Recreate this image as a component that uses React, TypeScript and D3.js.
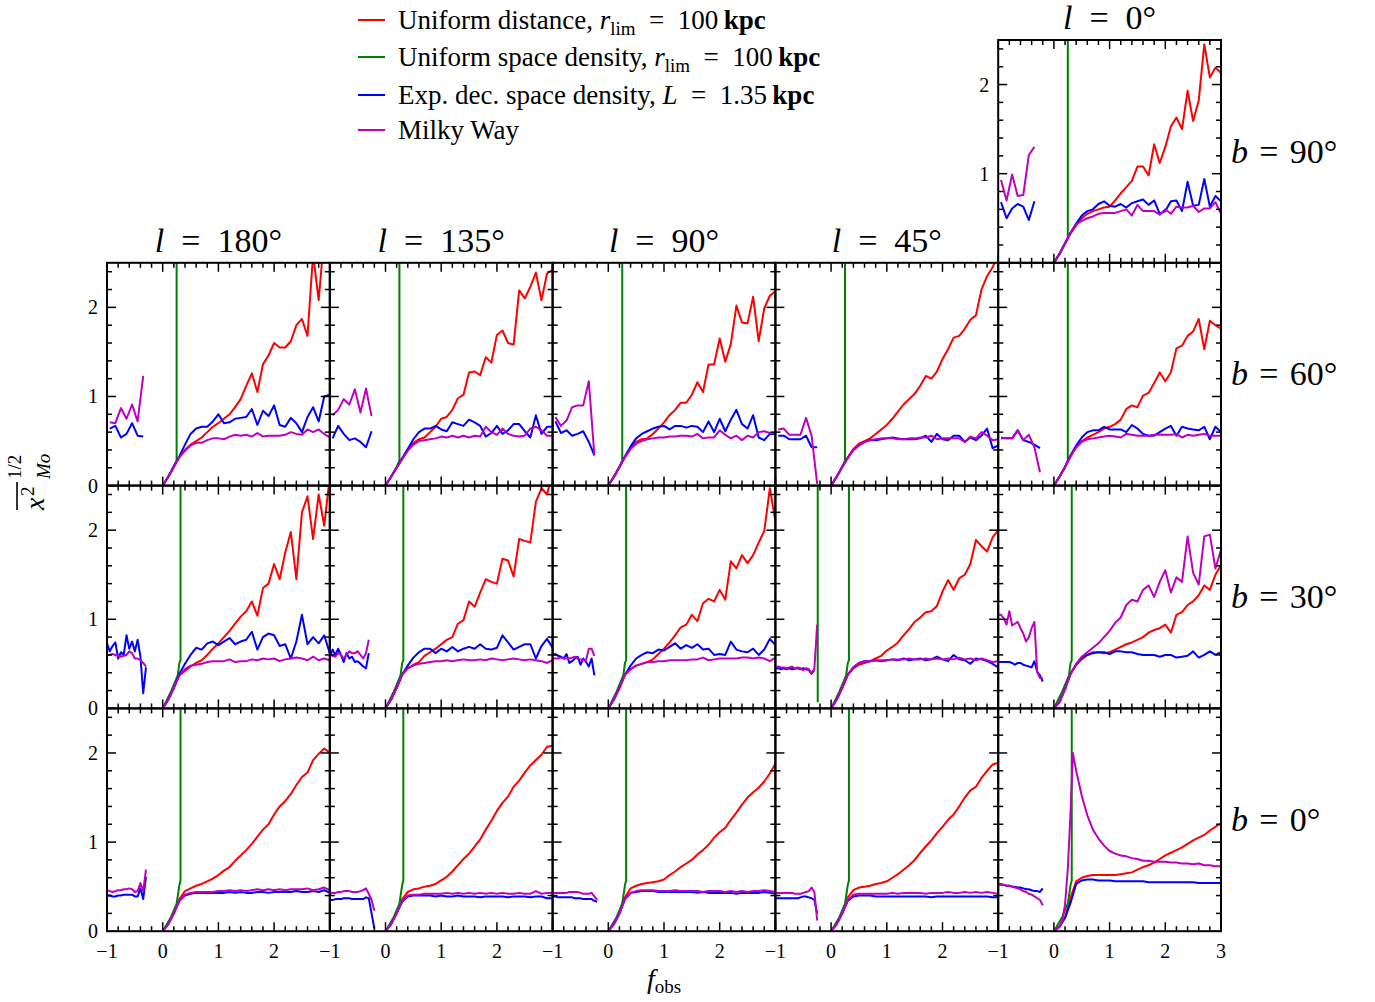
import React from "react";
import * as d3 from "d3";

const FONT = "'Liberation Serif', 'DejaVu Serif', serif";

// sample grids (in f_obs)
const POS_X = [0, 0.1, 0.2, 0.3, 0.4, 0.5, 0.6, 0.7, 0.8, 0.9, 1.0, 1.1, 1.2, 1.3, 1.4, 1.5, 1.6, 1.7, 1.8, 1.9, 2.0,
  2.1, 2.2, 2.3, 2.4, 2.5, 2.6, 2.7, 2.8, 2.9, 3.0];
const NEG_X_COARSE = [-0.95, -0.85, -0.75, -0.65, -0.55, -0.45, -0.35, -0.25];
const NEG_X_FINE = [-1, -0.95, -0.9, -0.85, -0.8, -0.75, -0.7, -0.65, -0.6, -0.55, -0.5, -0.45, -0.4, -0.35, -0.3, -0.25, -0.2];
const MW_PEAK_X = [0, 0.1, 0.15, 0.2, 0.25, 0.3, 0.34, 0.4, 0.5, 0.6, 0.7, 0.8, 0.9, 1.0, 1.1, 1.2, 1.3, 1.4, 1.5, 1.6,
  1.7, 1.8, 1.9, 2.0, 2.1, 2.2, 2.3, 2.4, 2.5, 2.6, 2.7, 2.8, 2.9, 3.0];

const L_LABELS = ["180", "135", "90", "45", "0"];
const B_LABELS = ["90", "60", "30", "0"];
const X_TICKS = [-1, 0, 1, 2, 3];
const Y_TICKS = [0, 1, 2];

// green: uniform space density
const GREEN_X_B60 = [0, 0.1, 0.2, 0.25, 0.25];
const GREEN_Y_B60 = [0, 0.1, 0.21, 0.28, 2.6];
const GREEN_X_B30 = [0, 0.15, 0.27, 0.3, 0.32, 0.32];
const GREEN_Y_B30 = [0, 0.19, 0.37, 0.51, 0.54, 2.6];
const GREEN_X_B0 = [0, 0.15, 0.25, 0.3, 0.32, 0.32];
const GREEN_Y_B0 = [0, 0.16, 0.31, 0.52, 0.57, 2.6];
const GREEN_EXTRA_X_B30_L45 = [-0.24, -0.24];
const GREEN_EXTRA_Y_B30_L45 = [0.07, 2.6];

// b = 90
const RED_B90_L0 = [0, 0.1, 0.22, 0.33, 0.42, 0.5, 0.55, 0.58, 0.6, 0.62, 0.63, 0.7, 0.78, 0.85, 0.92, 1.08, 1.08, 0.98, 1.33, 1.12, 1.3, 1.53, 1.63, 1.5, 1.93, 1.59, 1.82, 2.45, 2.08, 2.19, 2.13];
const BLUE_B90_L0 = [0, 0.1, 0.22, 0.34, 0.44, 0.53, 0.58, 0.6, 0.66, 0.69, 0.64, 0.63, 0.66, 0.62, 0.67, 0.69, 0.71, 0.65, 0.7, 0.55, 0.58, 0.69, 0.7, 0.58, 0.91, 0.64, 0.65, 0.94, 0.63, 0.75, 0.69];
const MW_B90_L0 = [0, 0.1, 0.22, 0.34, 0.43, 0.47, 0.5, 0.52, 0.55, 0.56, 0.56, 0.56, 0.58, 0.6, 0.53, 0.65, 0.58, 0.58, 0.58, 0.54, 0.6, 0.55, 0.63, 0.62, 0.62, 0.64, 0.57, 0.61, 0.61, 0.68, 0.55];
const MW_NEG_B90_L0 = [0.93, 0.7, 0.99, 0.75, 0.76, 1.21, 1.3, null];
const BLUE_NEG_B90_L0 = [0.68, 0.5, 0.61, 0.66, 0.63, 0.48, 0.69, null];

// b = 60
const RED_B60_L180 = [0, 0.1, 0.21, 0.32, 0.4, 0.46, 0.5, 0.54, 0.6, 0.66, 0.7, 0.75, 0.8, 0.88, 0.97, 1.12, 1.26, 1.05, 1.36, 1.46, 1.6, 1.55, 1.55, 1.62, 1.8, 1.87, 1.68, 2.6, 2.08, 2.8, 2.9];
const BLUE_B60_L180 = [0, 0.1, 0.22, 0.33, 0.46, 0.58, 0.64, 0.66, 0.66, 0.72, 0.8, 0.7, 0.71, 0.75, 0.76, 0.77, 0.86, 0.68, 0.84, 0.78, 0.9, 0.68, 0.66, 0.76, 0.7, 0.6, 0.77, 0.88, 0.72, 1.0, 1.02];
const MW_B60_L180 = [0, 0.1, 0.21, 0.32, 0.39, 0.45, 0.48, 0.48, 0.51, 0.53, 0.53, 0.52, 0.55, 0.57, 0.56, 0.57, 0.55, 0.59, 0.55, 0.56, 0.56, 0.56, 0.57, 0.6, 0.58, 0.57, 0.63, 0.6, 0.63, 0.58, 0.54];
const MW_NEG_B60_L180 = [0.71, 0.7, 0.87, 0.75, 0.91, 0.72, 1.23, null];
const BLUE_NEG_B60_L180 = [0.64, 0.67, 0.54, 0.58, 0.7, 0.56, 0.55, null];

const RED_B60_L135 = [0, 0.1, 0.2, 0.3, 0.41, 0.48, 0.52, 0.54, 0.6, 0.66, 0.75, 0.77, 0.85, 0.98, 1.02, 1.27, 1.28, 1.24, 1.44, 1.38, 1.69, 1.74, 1.6, 1.58, 2.19, 2.1, 2.23, 2.39, 2.08, 2.38, 2.42];
const BLUE_B60_L135 = [0, 0.1, 0.2, 0.31, 0.41, 0.52, 0.6, 0.64, 0.64, 0.67, 0.63, 0.61, 0.71, 0.69, 0.67, 0.74, 0.71, 0.67, 0.55, 0.59, 0.67, 0.58, 0.62, 0.69, 0.69, 0.61, 0.54, 0.79, 0.58, 0.66, 0.66];
const MW_B60_L135 = [0, 0.1, 0.2, 0.3, 0.39, 0.46, 0.5, 0.51, 0.52, 0.53, 0.55, 0.54, 0.56, 0.54, 0.56, 0.54, 0.56, 0.55, 0.66, 0.6, 0.57, 0.64, 0.58, 0.56, 0.55, 0.56, 0.64, 0.66, 0.62, 0.56, 0.56];
const MW_NEG_B60_L135 = [0.79, 0.85, 0.97, 0.91, 1.08, 0.82, 1.09, 0.78];
const BLUE_NEG_B60_L135 = [0.53, 0.67, 0.58, 0.51, 0.53, 0.49, 0.43, 0.61];

const RED_B60_L90 = [0, 0.1, 0.21, 0.32, 0.42, 0.49, 0.52, 0.53, 0.58, 0.64, 0.71, 0.79, 0.85, 0.93, 0.93, 1.02, 1.16, 1.05, 1.36, 1.36, 1.65, 1.39, 1.59, 2.02, 1.83, 1.82, 2.12, 1.62, 1.99, 2.13, 2.18];
const BLUE_B60_L90 = [0, 0.1, 0.21, 0.33, 0.44, 0.53, 0.58, 0.61, 0.64, 0.66, 0.67, 0.63, 0.67, 0.67, 0.65, 0.67, 0.66, 0.6, 0.72, 0.6, 0.75, 0.61, 0.74, 0.85, 0.69, 0.64, 0.79, 0.54, 0.51, 0.58, 0.58];
const MW_B60_L90 = [0, 0.1, 0.21, 0.32, 0.41, 0.47, 0.5, 0.52, 0.53, 0.54, 0.54, 0.55, 0.55, 0.56, 0.56, 0.55, 0.58, 0.53, 0.54, 0.54, 0.62, 0.57, 0.53, 0.56, 0.51, 0.56, 0.54, 0.6, 0.61, 0.59, 0.59];
const MW_NEG_B60_L90 = [0.77, 0.67, 0.73, 0.88, 0.9, 0.9, 1.17, 0.34];
const BLUE_NEG_B60_L90 = [0.72, 0.59, 0.62, 0.56, 0.58, 0.61, 0.49, 0.34];

const RED_B60_L45 = [0, 0.1, 0.21, 0.32, 0.41, 0.47, 0.5, 0.53, 0.58, 0.63, 0.68, 0.75, 0.83, 0.91, 0.97, 1.03, 1.12, 1.23, 1.2, 1.28, 1.42, 1.53, 1.66, 1.68, 1.76, 1.86, 1.91, 2.2, 2.35, 2.45, 2.6];
const BLUE_B60_L45 = [0, 0.1, 0.21, 0.31, 0.4, 0.45, 0.49, 0.51, 0.51, 0.52, 0.53, 0.54, 0.53, 0.52, 0.52, 0.52, 0.53, 0.56, 0.49, 0.58, 0.52, 0.51, 0.56, 0.56, 0.49, 0.54, 0.51, 0.56, 0.64, 0.42, 0.45];
const MW_B60_L45 = [0, 0.1, 0.21, 0.31, 0.4, 0.45, 0.49, 0.51, 0.52, 0.53, 0.53, 0.53, 0.52, 0.52, 0.53, 0.53, 0.54, 0.54, 0.56, 0.52, 0.53, 0.53, 0.53, 0.53, 0.49, 0.55, 0.53, 0.6, 0.56, 0.51, 0.52];
const MW_NEG_B60_L45 = [0.63, 0.64, 0.57, 0.57, 0.57, 0.76, 0.56, 0.02];
const BLUE_NEG_B60_L45 = [0.56, 0.56, 0.52, 0.52, 0.52, 0.56, 0.43, 0.43];

const RED_B60_L0 = [0, 0.1, 0.21, 0.33, 0.43, 0.5, 0.54, 0.57, 0.6, 0.64, 0.66, 0.69, 0.74, 0.86, 0.9, 0.88, 1.01, 1.04, 1.15, 1.27, 1.17, 1.27, 1.54, 1.57, 1.68, 1.73, 1.87, 1.53, 1.85, 1.8, 1.76];
const BLUE_B60_L0 = [0, 0.1, 0.21, 0.34, 0.45, 0.54, 0.6, 0.62, 0.62, 0.66, 0.63, 0.63, 0.63, 0.6, 0.68, 0.64, 0.58, 0.56, 0.56, 0.6, 0.64, 0.67, 0.56, 0.66, 0.64, 0.63, 0.62, 0.66, 0.52, 0.66, 0.6];
const MW_B60_L0 = [0, 0.1, 0.21, 0.33, 0.43, 0.49, 0.52, 0.53, 0.54, 0.55, 0.56, 0.55, 0.54, 0.58, 0.57, 0.56, 0.56, 0.56, 0.57, 0.57, 0.57, 0.57, 0.58, 0.54, 0.57, 0.56, 0.57, 0.58, 0.56, 0.56, 0.56];
const MW_NEG_B60_L0 = [0.54, 0.53, 0.53, 0.62, 0.51, 0.57, 0.43, 0.15];
const BLUE_NEG_B60_L0 = [0.53, 0.53, 0.53, 0.62, 0.51, 0.49, 0.46, 0.42];

// b = 30
const RED_B30_L180 = [0, 0.1, 0.23, 0.37, 0.42, 0.47, 0.51, 0.54, 0.6, 0.67, 0.73, 0.8, 0.87, 0.95, 1.03, 1.09, 1.2, 1.04, 1.35, 1.4, 1.62, 1.45, 1.75, 1.98, 1.45, 2.2, 2.38, 1.9, 2.4, 2.05, 2.6];
const BLUE_B30_L180 = [0, 0.1, 0.23, 0.39, 0.5, 0.6, 0.68, 0.66, 0.73, 0.75, 0.71, 0.75, 0.79, 0.72, 0.75, 0.77, 0.86, 0.66, 0.8, 0.84, 0.82, 0.7, 0.72, 0.56, 0.75, 1.05, 0.72, 0.8, 0.73, 0.82, 0.62];
const MW_B30_L180 = [0, 0.1, 0.23, 0.37, 0.44, 0.48, 0.49, 0.5, 0.52, 0.53, 0.53, 0.53, 0.55, 0.52, 0.53, 0.53, 0.55, 0.54, 0.56, 0.55, 0.56, 0.53, 0.55, 0.56, 0.57, 0.56, 0.54, 0.58, 0.54, 0.56, 0.54];
const MW_NEG_B30_L180 = [0.6, 0.6, 0.61, 0.6, 0.59, 0.58, 0.59, 0.6, 0.64, 0.62, 0.56, 0.56, 0.54, 0.51, 0.47, null, null];
const BLUE_NEG_B30_L180 = [0.73, 0.64, 0.7, 0.74, 0.56, 0.63, 0.6, 0.82, 0.67, 0.75, 0.64, 0.77, 0.58, 0.17, 0.46, null, null];

const RED_B30_L135 = [0, 0.1, 0.23, 0.38, 0.45, 0.49, 0.52, 0.59, 0.63, 0.67, 0.72, 0.77, 0.8, 0.95, 0.99, 1.2, 1.14, 1.3, 1.45, 1.42, 1.4, 1.68, 1.66, 1.48, 1.9, 1.88, 1.86, 2.32, 2.47, 2.4, 2.65];
const BLUE_B30_L135 = [0, 0.1, 0.23, 0.38, 0.48, 0.57, 0.63, 0.67, 0.67, 0.62, 0.67, 0.64, 0.69, 0.64, 0.67, 0.69, 0.67, 0.72, 0.67, 0.66, 0.68, 0.82, 0.74, 0.66, 0.69, 0.72, 0.72, 0.56, 0.7, 0.78, 0.68];
const MW_B30_L135 = [0, 0.1, 0.23, 0.38, 0.45, 0.48, 0.5, 0.51, 0.52, 0.53, 0.53, 0.54, 0.53, 0.54, 0.55, 0.54, 0.54, 0.55, 0.54, 0.56, 0.55, 0.54, 0.55, 0.56, 0.55, 0.54, 0.55, 0.54, 0.53, 0.51, 0.54];
const MW_NEG_B30_L135 = [0.6, 0.59, 0.58, 0.62, 0.6, 0.56, 0.6, 0.64, 0.62, 0.62, 0.64, 0.6, 0.56, 0.62, 0.77, null, null];
const BLUE_NEG_B30_L135 = [0.58, 0.66, 0.6, 0.67, 0.6, 0.52, 0.62, 0.56, 0.58, 0.52, 0.53, 0.5, 0.47, 0.45, 0.62, null, null];

const RED_B30_L90 = [0, 0.1, 0.23, 0.38, 0.44, 0.48, 0.5, 0.52, 0.55, 0.61, 0.67, 0.74, 0.82, 0.91, 0.94, 1.05, 0.98, 1.18, 1.23, 1.2, 1.33, 1.22, 1.65, 1.57, 1.72, 1.63, 1.72, 1.86, 1.99, 2.47, 2.1];
const BLUE_B30_L90 = [0, 0.1, 0.23, 0.38, 0.48, 0.56, 0.6, 0.63, 0.62, 0.66, 0.65, 0.69, 0.73, 0.67, 0.71, 0.68, 0.72, 0.66, 0.67, 0.6, 0.61, 0.6, 0.75, 0.66, 0.64, 0.63, 0.67, 0.6, 0.66, 0.78, 0.71];
const MW_B30_L90 = [0, 0.1, 0.23, 0.38, 0.44, 0.48, 0.5, 0.52, 0.52, 0.53, 0.53, 0.54, 0.54, 0.54, 0.54, 0.55, 0.55, 0.57, 0.54, 0.55, 0.56, 0.56, 0.56, 0.56, 0.57, 0.57, 0.56, 0.57, 0.56, 0.53, 0.57];
const MW_NEG_B30_L90 = [0.56, 0.56, 0.56, 0.57, 0.56, 0.56, 0.56, 0.57, 0.58, 0.56, 0.55, 0.54, 0.54, 0.67, 0.67, 0.59, null];
const BLUE_NEG_B30_L90 = [0.6, 0.61, 0.59, 0.58, 0.56, 0.61, 0.51, 0.53, 0.56, 0.58, 0.49, 0.56, 0.52, 0.47, 0.56, 0.37, null];

const RED_B30_L45 = [0, 0.1, 0.23, 0.38, 0.45, 0.49, 0.51, 0.53, 0.56, 0.59, 0.65, 0.69, 0.74, 0.82, 0.89, 0.97, 1.02, 1.08, 1.09, 1.15, 1.31, 1.44, 1.33, 1.46, 1.5, 1.62, 1.89, 1.82, 1.76, 1.92, 2.0];
const BLUE_B30_L45 = [0, 0.1, 0.23, 0.38, 0.46, 0.51, 0.53, 0.53, 0.54, 0.53, 0.54, 0.55, 0.54, 0.56, 0.54, 0.55, 0.56, 0.54, 0.55, 0.58, 0.55, 0.53, 0.6, 0.55, 0.54, 0.5, 0.56, 0.55, 0.53, 0.5, 0.46];
const MW_B30_L45 = [0, 0.1, 0.23, 0.38, 0.46, 0.51, 0.53, 0.53, 0.54, 0.54, 0.54, 0.55, 0.55, 0.55, 0.56, 0.55, 0.55, 0.56, 0.55, 0.56, 0.55, 0.56, 0.55, 0.57, 0.55, 0.56, 0.54, 0.56, 0.54, 0.52, 0.53];
const MW_NEG_B30_L45 = [0.46, 0.47, 0.46, 0.46, 0.45, 0.46, 0.47, 0.44, 0.46, 0.45, 0.43, 0.45, 0.44, 0.39, 0.45, 0.94, null];
const BLUE_NEG_B30_L45 = [0.45, 0.45, 0.44, 0.45, 0.44, 0.45, 0.44, 0.45, 0.45, 0.44, 0.45, 0.44, 0.43, 0.39, 0.43, null, null];

const RED_B30_L0 = [0, 0.07, 0.22, 0.39, 0.49, 0.55, 0.6, 0.63, 0.63, 0.62, 0.63, 0.66, 0.69, 0.72, 0.74, 0.77, 0.8, 0.85, 0.88, 0.9, 0.94, 0.85, 1.05, 1.08, 1.16, 1.2, 1.27, 1.38, 1.33, 1.5, 1.61];
const BLUE_B30_L0 = [0, 0.07, 0.22, 0.39, 0.49, 0.57, 0.6, 0.62, 0.63, 0.63, 0.61, 0.64, 0.64, 0.63, 0.63, 0.61, 0.6, 0.6, 0.6, 0.58, 0.6, 0.6, 0.57, 0.58, 0.59, 0.64, 0.57, 0.6, 0.64, 0.6, 0.63];
const MW_B30_L0 = [0, 0.07, 0.22, 0.39, 0.5, 0.58, 0.63, 0.68, 0.73, 0.8, 0.87, 0.96, 1.02, 1.16, 1.22, 1.2, 1.33, 1.38, 1.25, 1.42, 1.55, 1.3, 1.47, 1.42, 1.93, 1.52, 1.39, 1.93, 1.95, 1.57, 1.78];
const MW_NEG_B30_L0 = [1.05, 1.05, 1.01, 0.94, 1.09, 0.93, 0.95, 0.97, 0.9, 0.84, 0.75, 0.8, 0.9, 0.97, 0.41, 0.34, 0.34];
const BLUE_NEG_B30_L0 = [0.52, 0.52, 0.52, 0.52, 0.52, 0.51, 0.49, 0.51, 0.51, 0.49, 0.48, 0.47, 0.46, 0.53, 0.41, 0.37, 0.3];

// b = 0
const RED_B0_L180 = [0, 0.08, 0.2, 0.36, 0.45, 0.48, 0.51, 0.53, 0.56, 0.59, 0.63, 0.68, 0.72, 0.79, 0.85, 0.91, 0.98, 1.06, 1.14, 1.2, 1.31, 1.4, 1.46, 1.54, 1.64, 1.73, 1.78, 1.92, 1.99, 2.05, 2.0];
const BLUE_B0_L180 = [0, 0.08, 0.2, 0.34, 0.4, 0.42, 0.43, 0.43, 0.43, 0.43, 0.43, 0.43, 0.44, 0.43, 0.44, 0.43, 0.43, 0.44, 0.44, 0.43, 0.44, 0.44, 0.44, 0.44, 0.45, 0.44, 0.44, 0.45, 0.44, 0.46, 0.43];
const MW_B0_L180 = [0, 0.08, 0.2, 0.34, 0.41, 0.43, 0.44, 0.44, 0.44, 0.44, 0.45, 0.45, 0.46, 0.45, 0.46, 0.45, 0.46, 0.47, 0.46, 0.47, 0.46, 0.47, 0.46, 0.47, 0.47, 0.47, 0.48, 0.46, 0.47, 0.49, 0.46];
const MW_NEG_B0_L180 = [0.46, 0.45, 0.44, 0.45, 0.46, 0.46, 0.47, 0.47, 0.48, 0.47, 0.44, 0.45, 0.54, 0.45, 0.69, null, null];
const BLUE_NEG_B0_L180 = [0.4, 0.4, 0.39, 0.39, 0.4, 0.4, 0.41, 0.41, 0.41, 0.41, 0.39, 0.39, 0.48, 0.36, 0.61, null, null];

const RED_B0_L135 = [0, 0.08, 0.2, 0.36, 0.44, 0.47, 0.48, 0.5, 0.51, 0.53, 0.57, 0.61, 0.67, 0.74, 0.81, 0.87, 0.95, 1.03, 1.14, 1.24, 1.35, 1.44, 1.51, 1.62, 1.69, 1.78, 1.86, 1.92, 1.98, 2.07, 2.08];
const BLUE_B0_L135 = [0, 0.08, 0.2, 0.33, 0.39, 0.4, 0.4, 0.4, 0.4, 0.39, 0.4, 0.39, 0.39, 0.4, 0.39, 0.39, 0.39, 0.38, 0.39, 0.39, 0.39, 0.39, 0.38, 0.39, 0.39, 0.39, 0.38, 0.39, 0.39, 0.37, 0.37];
const MW_B0_L135 = [0, 0.08, 0.2, 0.34, 0.4, 0.41, 0.41, 0.42, 0.42, 0.42, 0.42, 0.43, 0.42, 0.43, 0.42, 0.43, 0.42, 0.43, 0.42, 0.43, 0.42, 0.43, 0.42, 0.42, 0.43, 0.42, 0.42, 0.45, 0.42, 0.43, 0.43];
const MW_NEG_B0_L135 = [0.42, 0.43, 0.43, 0.44, 0.44, 0.45, 0.45, 0.45, 0.44, 0.44, 0.44, 0.45, 0.46, 0.48, 0.42, 0.35, 0.23];
const BLUE_NEG_B0_L135 = [0.35, 0.35, 0.36, 0.36, 0.36, 0.37, 0.37, 0.37, 0.36, 0.36, 0.36, 0.36, 0.36, 0.38, 0.37, 0.2, 0.03];

const RED_B0_L90 = [0, 0.08, 0.2, 0.38, 0.48, 0.51, 0.53, 0.54, 0.55, 0.56, 0.58, 0.63, 0.67, 0.72, 0.76, 0.8, 0.86, 0.91, 0.97, 1.05, 1.11, 1.16, 1.25, 1.33, 1.42, 1.5, 1.56, 1.61, 1.68, 1.77, 1.88];
const BLUE_B0_L90 = [0, 0.08, 0.2, 0.36, 0.43, 0.44, 0.45, 0.45, 0.45, 0.44, 0.44, 0.44, 0.44, 0.44, 0.44, 0.44, 0.43, 0.44, 0.43, 0.43, 0.43, 0.43, 0.43, 0.42, 0.43, 0.43, 0.43, 0.43, 0.44, 0.43, 0.42];
const MW_B0_L90 = [0, 0.08, 0.2, 0.36, 0.43, 0.45, 0.46, 0.46, 0.46, 0.45, 0.45, 0.45, 0.46, 0.45, 0.45, 0.45, 0.45, 0.44, 0.45, 0.45, 0.45, 0.44, 0.45, 0.44, 0.45, 0.44, 0.45, 0.45, 0.46, 0.45, 0.44];
const MW_NEG_B0_L90 = [0.43, 0.43, 0.43, 0.43, 0.43, 0.43, 0.44, 0.44, 0.44, 0.44, 0.43, 0.42, 0.42, 0.42, 0.43, 0.39, 0.35];
const BLUE_NEG_B0_L90 = [0.39, 0.39, 0.38, 0.38, 0.38, 0.38, 0.38, 0.38, 0.37, 0.37, 0.37, 0.36, 0.36, 0.36, 0.36, 0.34, 0.33];

const RED_B0_L45 = [0, 0.08, 0.2, 0.38, 0.46, 0.49, 0.5, 0.51, 0.53, 0.54, 0.56, 0.6, 0.64, 0.69, 0.74, 0.8, 0.88, 0.95, 1.02, 1.1, 1.17, 1.25, 1.31, 1.4, 1.5, 1.58, 1.62, 1.72, 1.8, 1.87, 1.89];
const BLUE_B0_L45 = [0, 0.08, 0.2, 0.34, 0.39, 0.4, 0.4, 0.4, 0.39, 0.39, 0.39, 0.39, 0.39, 0.39, 0.39, 0.39, 0.39, 0.39, 0.38, 0.39, 0.39, 0.39, 0.39, 0.39, 0.39, 0.39, 0.39, 0.39, 0.39, 0.38, 0.38];
const MW_B0_L45 = [0, 0.08, 0.2, 0.35, 0.41, 0.42, 0.42, 0.42, 0.42, 0.42, 0.42, 0.43, 0.42, 0.43, 0.43, 0.43, 0.43, 0.42, 0.43, 0.43, 0.43, 0.44, 0.43, 0.43, 0.44, 0.43, 0.44, 0.43, 0.44, 0.43, 0.42];
const MW_NEG_B0_L45 = [0.43, 0.43, 0.43, 0.43, 0.43, 0.43, 0.43, 0.42, 0.42, 0.42, 0.43, 0.44, 0.45, 0.49, 0.44, 0.12, null];
const BLUE_NEG_B0_L45 = [0.37, 0.37, 0.37, 0.37, 0.37, 0.37, 0.37, 0.37, 0.37, 0.38, 0.39, 0.39, 0.38, 0.37, 0.35, 0.2, null];

const RED_B0_L0 = [0, 0.05, 0.15, 0.38, 0.56, 0.6, 0.62, 0.63, 0.63, 0.63, 0.63, 0.63, 0.64, 0.65, 0.66, 0.69, 0.72, 0.74, 0.77, 0.81, 0.85, 0.88, 0.91, 0.94, 0.98, 1.02, 1.05, 1.08, 1.13, 1.17, 1.21];
const BLUE_B0_L0 = [0, 0.05, 0.15, 0.32, 0.53, 0.57, 0.58, 0.58, 0.57, 0.57, 0.57, 0.56, 0.56, 0.56, 0.56, 0.56, 0.56, 0.55, 0.55, 0.55, 0.55, 0.55, 0.55, 0.55, 0.55, 0.55, 0.54, 0.54, 0.54, 0.54, 0.54];
const MW_B0_L0 = [0, 0.05, 0.12, 0.3, 0.7, 1.35, 2.0, 1.8, 1.52, 1.3, 1.14, 1.04, 0.96, 0.9, 0.87, 0.85, 0.84, 0.82, 0.81, 0.79, 0.79, 0.78, 0.78, 0.78, 0.77, 0.77, 0.76, 0.76, 0.75, 0.76, 0.74, 0.74, 0.73, 0.73];
const MW_NEG_B0_L0 = [0.53, 0.53, 0.52, 0.51, 0.51, 0.5, 0.49, 0.48, 0.47, 0.45, 0.44, 0.42, 0.41, 0.39, 0.37, 0.35, 0.29];
const BLUE_NEG_B0_L0 = [0.52, 0.52, 0.52, 0.51, 0.51, 0.5, 0.5, 0.49, 0.49, 0.48, 0.47, 0.47, 0.46, 0.45, 0.45, 0.44, 0.48];

const COLORS = { red: "#ff0000", green: "#008000", blue: "#0000ff", mw: "#bf00bf" };

const PANELS = [
  { row: 0, col: 4, red: RED_B90_L0, blue: BLUE_B90_L0, mw: MW_B90_L0, blueNeg: BLUE_NEG_B90_L0, mwNeg: MW_NEG_B90_L0, negX: NEG_X_COARSE, gx: GREEN_X_B60, gy: GREEN_Y_B60 },
  { row: 1, col: 0, red: RED_B60_L180, blue: BLUE_B60_L180, mw: MW_B60_L180, blueNeg: BLUE_NEG_B60_L180, mwNeg: MW_NEG_B60_L180, negX: NEG_X_COARSE, gx: GREEN_X_B60, gy: GREEN_Y_B60 },
  { row: 1, col: 1, red: RED_B60_L135, blue: BLUE_B60_L135, mw: MW_B60_L135, blueNeg: BLUE_NEG_B60_L135, mwNeg: MW_NEG_B60_L135, negX: NEG_X_COARSE, gx: GREEN_X_B60, gy: GREEN_Y_B60 },
  { row: 1, col: 2, red: RED_B60_L90, blue: BLUE_B60_L90, mw: MW_B60_L90, blueNeg: BLUE_NEG_B60_L90, mwNeg: MW_NEG_B60_L90, negX: NEG_X_COARSE, gx: GREEN_X_B60, gy: GREEN_Y_B60 },
  { row: 1, col: 3, red: RED_B60_L45, blue: BLUE_B60_L45, mw: MW_B60_L45, blueNeg: BLUE_NEG_B60_L45, mwNeg: MW_NEG_B60_L45, negX: NEG_X_COARSE, gx: GREEN_X_B60, gy: GREEN_Y_B60 },
  { row: 1, col: 4, red: RED_B60_L0, blue: BLUE_B60_L0, mw: MW_B60_L0, blueNeg: BLUE_NEG_B60_L0, mwNeg: MW_NEG_B60_L0, negX: NEG_X_COARSE, gx: GREEN_X_B60, gy: GREEN_Y_B60 },
  { row: 2, col: 0, red: RED_B30_L180, blue: BLUE_B30_L180, mw: MW_B30_L180, blueNeg: BLUE_NEG_B30_L180, mwNeg: MW_NEG_B30_L180, negX: NEG_X_FINE, gx: GREEN_X_B30, gy: GREEN_Y_B30 },
  { row: 2, col: 1, red: RED_B30_L135, blue: BLUE_B30_L135, mw: MW_B30_L135, blueNeg: BLUE_NEG_B30_L135, mwNeg: MW_NEG_B30_L135, negX: NEG_X_FINE, gx: GREEN_X_B30, gy: GREEN_Y_B30 },
  { row: 2, col: 2, red: RED_B30_L90, blue: BLUE_B30_L90, mw: MW_B30_L90, blueNeg: BLUE_NEG_B30_L90, mwNeg: MW_NEG_B30_L90, negX: NEG_X_FINE, gx: GREEN_X_B30, gy: GREEN_Y_B30 },
  { row: 2, col: 3, red: RED_B30_L45, blue: BLUE_B30_L45, mw: MW_B30_L45, blueNeg: BLUE_NEG_B30_L45, mwNeg: MW_NEG_B30_L45, negX: NEG_X_FINE, gx: GREEN_X_B30, gy: GREEN_Y_B30, gx2: GREEN_EXTRA_X_B30_L45, gy2: GREEN_EXTRA_Y_B30_L45 },
  { row: 2, col: 4, red: RED_B30_L0, blue: BLUE_B30_L0, mw: MW_B30_L0, blueNeg: BLUE_NEG_B30_L0, mwNeg: MW_NEG_B30_L0, negX: NEG_X_FINE, gx: GREEN_X_B30, gy: GREEN_Y_B30 },
  { row: 3, col: 0, red: RED_B0_L180, blue: BLUE_B0_L180, mw: MW_B0_L180, blueNeg: BLUE_NEG_B0_L180, mwNeg: MW_NEG_B0_L180, negX: NEG_X_FINE, gx: GREEN_X_B0, gy: GREEN_Y_B0 },
  { row: 3, col: 1, red: RED_B0_L135, blue: BLUE_B0_L135, mw: MW_B0_L135, blueNeg: BLUE_NEG_B0_L135, mwNeg: MW_NEG_B0_L135, negX: NEG_X_FINE, gx: GREEN_X_B0, gy: GREEN_Y_B0 },
  { row: 3, col: 2, red: RED_B0_L90, blue: BLUE_B0_L90, mw: MW_B0_L90, blueNeg: BLUE_NEG_B0_L90, mwNeg: MW_NEG_B0_L90, negX: NEG_X_FINE, gx: GREEN_X_B0, gy: GREEN_Y_B0 },
  { row: 3, col: 3, red: RED_B0_L45, blue: BLUE_B0_L45, mw: MW_B0_L45, blueNeg: BLUE_NEG_B0_L45, mwNeg: MW_NEG_B0_L45, negX: NEG_X_FINE, gx: GREEN_X_B0, gy: GREEN_Y_B0 },
  { row: 3, col: 4, red: RED_B0_L0, blue: BLUE_B0_L0, mw: MW_B0_L0, mwX: MW_PEAK_X, blueNeg: BLUE_NEG_B0_L0, mwNeg: MW_NEG_B0_L0, negX: NEG_X_FINE, gx: GREEN_X_B0, gy: GREEN_Y_B0 },
];

// math-style spacing around "="
const EQ = "\u2002=\u2002";
const LEGEND = [
  { color: COLORS.red, parts: [["Uniform distance, ", "n"], ["r", "i"], ["lim", "sub"], [`${EQ}100\u2009`, "n"], ["kpc", "b"]] },
  { color: COLORS.green, parts: [["Uniform space density, ", "n"], ["r", "i"], ["lim", "sub"], [`${EQ}100\u2009`, "n"], ["kpc", "b"]] },
  { color: COLORS.blue, parts: [["Exp. dec. space density, ", "n"], ["L", "i"], [`${EQ}1.35\u2009`, "n"], ["kpc", "b"]] },
  { color: COLORS.mw, parts: [["Milky Way", "n"]] },
];

const W = 1375, H = 1002;
const GRID_LEFT = 107, GRID_TOP = 40, PANEL_W = 222.8, PANEL_H = 222.8;

const zip = (xs, ys) => xs.map((v, i) => [v, ys[i]]);

const App = () => {
  const ref = React.useRef(null);

  React.useEffect(() => {
    const svg = d3.select(ref.current);
    svg.selectAll("*").remove();
    const defs = svg.append("defs");

    PANELS.forEach(p => {
      const left = GRID_LEFT + p.col * PANEL_W;
      const top = GRID_TOP + p.row * PANEL_H;
      const x = d3.scaleLinear([-1, 3], [left, left + PANEL_W]);
      const y = d3.scaleLinear([0, 2.5], [top + PANEL_H, top]);
      const clipId = `clip-${p.row}-${p.col}`;
      defs.append("clipPath").attr("id", clipId)
        .append("rect").attr("x", left).attr("y", top).attr("width", PANEL_W).attr("height", PANEL_H);

      const line = d3.line()
        .defined(d => d[1] != null)
        .x(d => x(d[0]))
        .y(d => y(d[1]));

      const g = svg.append("g").attr("clip-path", `url(#${clipId})`)
        .attr("fill", "none").attr("stroke-width", 2).attr("stroke-linejoin", "round");
      const draw = (pts, color) => g.append("path").datum(pts).attr("stroke", color).attr("d", line);

      draw(zip(POS_X, p.red), COLORS.red);
      draw(zip(p.gx, p.gy), COLORS.green);
      if (p.gx2) draw(zip(p.gx2, p.gy2), COLORS.green);
      draw(zip(POS_X, p.blue), COLORS.blue);
      draw(zip(p.negX, p.blueNeg), COLORS.blue);
      draw(zip(p.mwX || POS_X, p.mw), COLORS.mw);
      draw(zip(p.negX, p.mwNeg), COLORS.mw);

      // frame + inward ticks on all sides
      const f = svg.append("g").attr("stroke", "#000");
      d3.range(0, 21).map(i => -1 + i * 0.2).forEach(v => {
        const major = Math.abs(v - Math.round(v)) < 1e-6;
        const len = major ? 9 : 5;
        f.append("line").attr("x1", x(v)).attr("x2", x(v)).attr("y1", top + PANEL_H).attr("y2", top + PANEL_H - len).attr("stroke-width", 1.5);
        f.append("line").attr("x1", x(v)).attr("x2", x(v)).attr("y1", top).attr("y2", top + len).attr("stroke-width", 1.5);
      });
      d3.range(0, 13).map(i => i * 0.2).forEach(v => {
        const major = Math.abs(v - Math.round(v)) < 1e-6;
        const len = major ? 9 : 5;
        f.append("line").attr("y1", y(v)).attr("y2", y(v)).attr("x1", left).attr("x2", left + len).attr("stroke-width", 1.5);
        f.append("line").attr("y1", y(v)).attr("y2", y(v)).attr("x1", left + PANEL_W).attr("x2", left + PANEL_W - len).attr("stroke-width", 1.5);
      });
      f.append("rect").attr("x", left).attr("y", top).attr("width", PANEL_W).attr("height", PANEL_H)
        .attr("fill", "none").attr("stroke-width", 2);

      // tick labels
      const lab = svg.append("g").attr("font-family", FONT).attr("font-size", 20).attr("fill", "#000");
      if (p.col === 0 || p.row === 0) {
        Y_TICKS.forEach(v => {
          if (p.row === 0 && v === 0) return;
          lab.append("text").attr("x", left - 9).attr("y", y(v)).attr("dy", "0.35em")
            .attr("text-anchor", "end").text(String(v));
        });
      }
      if (p.row === 3) {
        X_TICKS.forEach(v => {
          if (v === 3 && p.col !== 4) return;
          lab.append("text").attr("x", x(v)).attr("y", top + PANEL_H + 27)
            .attr("text-anchor", "middle").text(v < 0 ? `\u2212${-v}` : String(v));
        });
      }
    });

    // column titles
    const t = svg.append("g").attr("font-family", FONT).attr("font-size", 34).attr("fill", "#000");
    L_LABELS.forEach((l, c) => {
      const cx = GRID_LEFT + c * PANEL_W + PANEL_W / 2;
      const ty = c === 4 ? 29 : 252;
      const txt = t.append("text").attr("x", cx).attr("y", ty).attr("text-anchor", "middle");
      txt.append("tspan").attr("font-style", "italic").text("l");
      txt.append("tspan").text(`${EQ}${l}\u00b0`);
    });
    // row labels
    B_LABELS.forEach((b, r) => {
      const cy = GRID_TOP + r * PANEL_H + PANEL_H / 2;
      const txt = t.append("text").attr("x", 1231).attr("y", cy).attr("dy", "0.33em");
      txt.append("tspan").attr("font-style", "italic").text("b");
      txt.append("tspan").text(`\u2004=\u2004${b}\u00b0`);
    });

    // legend
    const lg = svg.append("g").attr("font-family", FONT).attr("font-size", 27).attr("fill", "#000");
    const LEG_Y = [20, 57, 95, 130];
    LEGEND.forEach((item, i) => {
      const ly = LEG_Y[i];
      lg.append("line").attr("x1", 358).attr("x2", 385).attr("y1", ly).attr("y2", ly)
        .attr("stroke", item.color).attr("stroke-width", 2);
      const txt = lg.append("text").attr("x", 398).attr("y", ly + 9);
      let shifted = false;
      item.parts.forEach(([s, kind]) => {
        const ts = txt.append("tspan").text(s);
        if (kind === "i") ts.attr("font-style", "italic");
        if (kind === "b") ts.attr("font-weight", "bold");
        if (kind === "sub") { ts.attr("font-size", 19).attr("dy", 6); shifted = true; }
        else if (shifted) { ts.attr("dy", -6); shifted = false; }
      });
    });

    // y axis label
    const yl = svg.append("g").attr("transform", "translate(0,485) rotate(-90)")
      .attr("font-family", FONT).attr("fill", "#000");
    yl.append("text").attr("x", -25).attr("y", 44).attr("font-size", 28).attr("font-style", "italic").text("x");
    yl.append("text").attr("x", -11).attr("y", 34).attr("font-size", 19).text("2");
    yl.append("line").attr("x1", -25).attr("x2", 3).attr("y1", 17).attr("y2", 17).attr("stroke", "#000").attr("stroke-width", 1.6);
    yl.append("text").attr("x", 6).attr("y", 21).attr("font-size", 19).text("1/2");
    yl.append("text").attr("x", 6).attr("y", 50).attr("font-size", 19).attr("font-style", "italic").text("Mo");

    // x axis label
    const xl = svg.append("text").attr("x", 664).attr("y", 988).attr("text-anchor", "middle")
      .attr("font-family", FONT).attr("font-size", 28).attr("fill", "#000");
    xl.append("tspan").attr("font-style", "italic").text("f");
    xl.append("tspan").attr("font-size", 19).attr("dy", 5).text("obs");
  }, []);

  return <svg ref={ref} width={W} height={H} style={{ position: "absolute", left: 0, top: 0, background: "#fff" }} />;
};

export default App;
